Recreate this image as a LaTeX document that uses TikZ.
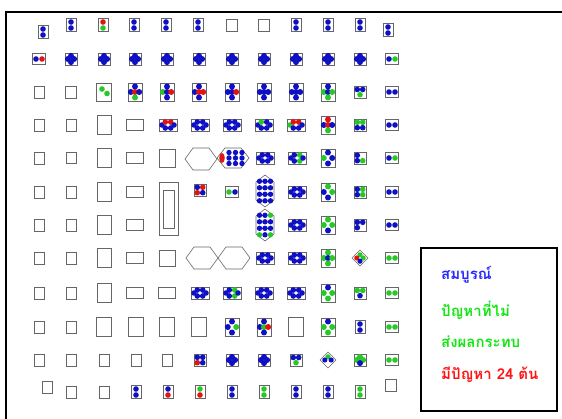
\documentclass[tikz,border=0pt]{standalone}
\usepackage{fontspec}
\newfontfamily\thaifont[Script=Thai]{Loma}
\usepackage{xcolor}
\definecolor{tblue}{RGB}{15,15,195}
\definecolor{tgreen}{RGB}{40,200,40}
\definecolor{tred}{RGB}{225,20,20}
\definecolor{keyblue}{RGB}{40,40,255}
\definecolor{keygreen}{RGB}{20,230,20}
\definecolor{keyred}{RGB}{255,20,20}
\usepackage{tikz}

\begin{document}
\begin{tikzpicture}[
  x=1pt, y=-1pt,
  cell/.style={draw=black!60, line width=0.6pt},
  keytext/.style={anchor=west, inner sep=0pt, font=\thaifont\bfseries\fontsize{15}{17}\selectfont},
  pics/box/.style 2 args={code={\draw[cell] (-#1/2,-#2/2) rectangle (#1/2,#2/2);}},
  pics/hexa/.style={code={\draw[cell] (-16,0) -- (-8,-11) -- (8,-11) -- (16,0) -- (8,11) -- (-8,11) -- cycle;}},
  pics/vtwo/.style 2 args={code={
    \draw[cell] (-5,-6.5) rectangle (5,6.5);
    \path[fill=#1] (0,-3) circle (2.8pt);
    \path[fill=#2] (0,3) circle (2.8pt);}},
  pics/htwo/.style 2 args={code={
    \draw[cell] (-6.5,-5.5) rectangle (6.5,5.5);
    \path[fill=#1] (-3,0) circle (2.8pt);
    \path[fill=#2] (3,0) circle (2.8pt);}},
  pics/flower/.style n args={4}{code={
    \draw[cell] (-6,-6) rectangle (6,6);
    \path[fill=#1] (0,-3.1) circle (3pt);
    \path[fill=#2] (-3.1,0) circle (3pt);
    \path[fill=#3] (3.1,0) circle (3pt);
    \path[fill=#4] (0,3.1) circle (3pt);}},
  pics/quad/.style n args={4}{code={
    \draw[cell] (-6,-6) rectangle (6,6);
    \path[fill=#1] (-2.7,-2.7) circle (2.8pt);
    \path[fill=#2] (2.7,-2.7) circle (2.8pt);
    \path[fill=#3] (-2.7,2.7) circle (2.8pt);
    \path[fill=#4] (2.7,2.7) circle (2.8pt);}},
  pics/tri/.style n args={3}{code={
    \draw[cell] (-6,-6) rectangle (6,6);
    \path[fill=#1] (-2.7,-2.5) circle (2.8pt);
    \path[fill=#2] (2.7,-2.5) circle (2.8pt);
    \path[fill=#3] (0,2.7) circle (2.8pt);}},
  pics/cross/.style n args={5}{code={
    \draw[cell] (-7,-9) rectangle (7,9);
    \path[fill=#1] (0,-5.5) circle (3pt);
    \path[fill=#2] (-4.2,0) circle (3pt);
    \path[fill=#3] (0,0) circle (3pt);
    \path[fill=#4] (4.2,0) circle (3pt);
    \path[fill=#5] (0,5.5) circle (3pt);}},
  pics/wide/.style n args={6}{code={
    \draw[cell] (-9,-6) rectangle (9,6);
    \path[fill=#1] (-6,0) circle (2.8pt);
    \path[fill=#2] (-2.7,-3) circle (2.8pt);
    \path[fill=#3] (-2.7,3) circle (2.8pt);
    \path[fill=#4] (2.7,-3) circle (2.8pt);
    \path[fill=#5] (2.7,3) circle (2.8pt);
    \path[fill=#6] (6,0) circle (2.8pt);}},
  pics/diam/.style n args={4}{code={
    \draw[cell] (0,-8) -- (8,0) -- (0,8) -- (-8,0) -- cycle;
    \path[fill=#1] (0,-3.2) circle (2.6pt);
    \path[fill=#2] (-3.2,0) circle (2.6pt);
    \path[fill=#3] (3.2,0) circle (2.6pt);
    \path[fill=#4] (0,3.2) circle (2.6pt);}}
]
\useasboundingbox (0,0) rectangle (562,419);

%% outer frame (runs off the right and bottom)
\draw[line width=1.6pt] (6,419) -- (6,12) -- (562,12);

%% row 1
\pic at (43,32) {vtwo={tblue}{tblue}};  \pic at (71,25) {vtwo={tblue}{tblue}};
\pic at (103,25) {vtwo={tred}{tgreen}}; \pic at (134,25) {vtwo={tblue}{tblue}};
\pic at (166,25) {vtwo={tblue}{tblue}}; \pic at (198,25) {vtwo={tblue}{tblue}};
\pic at (232,25) {box={11}{12}};        \pic at (264,25) {box={11}{12}};
\pic at (296,25) {vtwo={tblue}{tblue}}; \pic at (328,25) {vtwo={tblue}{tblue}};
\pic at (360,25) {vtwo={tblue}{tblue}}; \pic at (388,30) {vtwo={tblue}{tblue}};

%% row 2
\pic at (39,59) {htwo={tblue}{tred}};
\pic at (71,59) {flower={tblue}{tblue}{tblue}{tblue}};
\pic at (104,59) {flower={tblue}{tblue}{tblue}{tblue}};
\pic at (135,59) {flower={tblue}{tblue}{tblue}{tblue}};
\pic at (167,59) {flower={tblue}{tblue}{tblue}{tblue}};
\pic at (199,59) {flower={tblue}{tblue}{tblue}{tblue}};
\pic at (232,59) {flower={tblue}{tblue}{tblue}{tblue}};
\pic at (264,59) {flower={tblue}{tblue}{tblue}{tblue}};
\pic at (296,59) {flower={tblue}{tblue}{tblue}{tblue}};
\pic at (328,59) {flower={tblue}{tblue}{tblue}{tblue}};
\pic at (360,59) {flower={tblue}{tblue}{tblue}{tblue}};
\pic at (392,59) {htwo={tblue}{tgreen}};

%% row 3
\pic at (39,92) {box={10}{12}}; \pic at (71,92) {box={11}{12}};
\pic at (104,92) {box={15}{18}};
\fill[tgreen] (102,89) circle (2.8pt) (107,93.5) circle (2.8pt);
\pic at (135,92) {cross={tblue}{tblue}{tred}{tblue}{tgreen}};
\pic at (167,92) {cross={tblue}{tgreen}{tblue}{tred}{tblue}};
\pic at (199,92) {cross={tblue}{tblue}{tred}{tred}{tblue}};
\pic at (232,92) {cross={tblue}{tblue}{tblue}{tred}{tblue}};
\pic at (264,92) {cross={tblue}{tblue}{tblue}{tblue}{tblue}};
\pic at (296,92) {cross={tblue}{tblue}{tblue}{tblue}{tblue}};
\pic at (328,92) {cross={tblue}{tgreen}{tblue}{tgreen}{tgreen}};
\pic at (360,92) {tri={tblue}{tblue}{tgreen}};
\pic at (392,92) {htwo={tblue}{tblue}};

%% row 4
\pic at (39,125) {box={10}{12}}; \pic at (71,125) {box={10}{12}};
\pic at (104,125) {box={14}{19}}; \pic at (135,125) {box={17}{11}};
\pic at (168,125) {wide={tblue}{tred}{tblue}{tred}{tblue}{tblue}};
\pic at (200,125) {wide={tblue}{tblue}{tblue}{tblue}{tblue}{tblue}};
\pic at (232,125) {wide={tblue}{tblue}{tblue}{tblue}{tblue}{tblue}};
\pic at (264,125) {wide={tblue}{tgreen}{tblue}{tblue}{tblue}{tblue}};
\pic at (296,125) {wide={tgreen}{tred}{tblue}{tred}{tblue}{tblue}};
\pic at (328,125) {cross={tred}{tblue}{tred}{tblue}{tgreen}};
\pic at (360,125) {quad={tgreen}{tgreen}{tblue}{tblue}};
\pic at (392,125) {htwo={tblue}{tblue}};

%% row 5
\pic at (39,158) {box={10}{12}}; \pic at (71,158) {box={10}{11}};
\pic at (104,158) {box={14}{19}}; \pic at (135,158) {box={17}{11}};
\pic at (167,158) {box={16}{18}};
\pic at (201,159) {hexa};
\draw[cell] (217,158) -- (225,148) -- (241,148) -- (249,158) -- (241,168) -- (225,168) -- cycle;
\fill[tred] (222,158) ellipse (2.8pt and 5pt);
\fill[tblue] (229,152.5) circle (2.7pt) (235.5,152.5) circle (2.7pt) (242,152.5) circle (2.7pt)
  (229,158) circle (2.7pt) (235.5,158) circle (2.7pt) (242,158) circle (2.7pt)
  (229,163.5) circle (2.7pt) (235.5,163.5) circle (2.7pt) (242,163.5) circle (2.7pt);
\pic at (265,158) {wide={tblue}{tblue}{tblue}{tblue}{tblue}{tblue}};
\pic at (297,158) {wide={tblue}{tblue}{tblue}{tgreen}{tgreen}{tblue}};
\pic at (328,158) {cross={tblue}{tgreen}{none}{tblue}{tblue}};
\pic at (360,158) {quad={tblue}{none}{tblue}{tgreen}};
\pic at (392,158) {htwo={tblue}{tgreen}};

%% row 6
\pic at (39,192) {box={10}{12}}; \pic at (71,192) {box={10}{12}};
\pic at (104,192) {box={14}{19}}; \pic at (135,192) {box={17}{11}};
\draw[cell] (159,182) rectangle (178,235);
\draw[cell] (163,190) rectangle (174,228);
\pic at (200,190) {quad={tblue}{tred}{tred}{tblue}};
\pic at (232,192) {htwo={tgreen}{tblue}};
\draw[cell] (265,175) -- (274,182) -- (274,200) -- (265,207) -- (256,200) -- (256,182) -- cycle;
\fill[tblue] (259.5,181.3) circle (2.7pt) (265,181.3) circle (2.7pt) (270.5,181.3) circle (2.7pt)
  (259.5,187.8) circle (2.7pt) (265,187.8) circle (2.7pt) (270.5,187.8) circle (2.7pt)
  (259.5,194.3) circle (2.7pt) (265,194.3) circle (2.7pt) (270.5,194.3) circle (2.7pt)
  (259.5,200.8) circle (2.7pt) (265,200.8) circle (2.7pt) (270.5,200.8) circle (2.7pt);
\pic at (297,192) {wide={tblue}{tblue}{tblue}{tblue}{tblue}{tblue}};
\pic at (328,192) {cross={tgreen}{tblue}{none}{tgreen}{tblue}};
\pic at (360,192) {quad={tblue}{tgreen}{tblue}{tgreen}};
\pic at (392,192) {htwo={tblue}{tblue}};

%% row 7
\pic at (39,225) {box={10}{12}}; \pic at (71,225) {box={10}{12}};
\pic at (104,225) {box={14}{19}}; \pic at (135,225) {box={17}{11}};
\draw[cell] (265,209) -- (274,216) -- (274,234) -- (265,241) -- (256,234) -- (256,216) -- cycle;
\fill[tblue] (259.5,215.3) circle (2.7pt) (265,215.3) circle (2.7pt)
  (259.5,221.8) circle (2.7pt) (265,221.8) circle (2.7pt) (270.5,221.8) circle (2.7pt)
  (259.5,228.3) circle (2.7pt) (265,228.3) circle (2.7pt) (270.5,228.3) circle (2.7pt)
  (265,234.8) circle (2.7pt);
\fill[tgreen] (270.5,215.3) circle (2.7pt) (259.5,234.8) circle (2.7pt) (270.5,234.8) circle (2.7pt);
\pic at (297,225) {wide={tblue}{tblue}{tblue}{tblue}{tblue}{tblue}};
\pic at (328,225) {cross={tgreen}{tgreen}{none}{tgreen}{tblue}};
\pic at (360,225) {quad={tblue}{tblue}{tblue}{none}};
\pic at (392,225) {htwo={tblue}{tblue}};

%% row 8
\pic at (39,258) {box={10}{12}}; \pic at (71,258) {box={10}{12}};
\pic at (104,258) {box={14}{19}}; \pic at (135,258) {box={17}{11}};
\pic at (167,258) {box={16}{16}};
\pic at (202,258) {hexa}; \pic at (234,258) {hexa};
\pic at (265,258) {wide={tblue}{tblue}{tblue}{tblue}{tblue}{tblue}};
\pic at (297,258) {wide={tblue}{tblue}{tblue}{tblue}{tblue}{tblue}};
\pic at (328,258) {cross={tgreen}{tgreen}{tblue}{tgreen}{tgreen}};
\pic at (360,258) {diam={tgreen}{tred}{tgreen}{tblue}};
\pic at (392,258) {htwo={tgreen}{tgreen}};

%% row 9
\pic at (39,293) {box={10}{12}}; \pic at (71,293) {box={10}{12}};
\pic at (104,293) {box={14}{19}}; \pic at (135,293) {box={17}{11}};
\pic at (167,293) {box={17}{11}};
\pic at (200,293) {wide={tblue}{tblue}{tblue}{tblue}{tblue}{tblue}};
\pic at (232,293) {wide={tblue}{tblue}{tblue}{tgreen}{tgreen}{tblue}};
\pic at (264,293) {wide={tblue}{tblue}{tblue}{tblue}{tblue}{tblue}};
\pic at (296,293) {wide={tblue}{tblue}{tblue}{tblue}{tblue}{tblue}};
\pic at (328,293) {cross={tblue}{tgreen}{none}{tgreen}{tgreen}};
\pic at (360,293) {tri={tgreen}{tgreen}{tblue}};
\pic at (392,293) {htwo={tgreen}{tgreen}};

%% row 10
\pic at (39,327) {box={10}{12}}; \pic at (71,327) {box={10}{12}};
\pic at (104,327) {box={15}{19}}; \pic at (136,327) {box={15}{19}};
\pic at (167,327) {box={15}{19}}; \pic at (199,327) {box={15}{19}};
\pic at (232,327) {cross={tblue}{tblue}{none}{tgreen}{tblue}};
\pic at (264,327) {cross={tblue}{tblue}{tgreen}{tred}{tblue}};
\pic at (296,327) {box={15}{19}};
\pic at (328,327) {cross={tblue}{tgreen}{none}{tgreen}{tgreen}};
\pic at (360,327) {vtwo={tblue}{tblue}};
\pic at (392,327) {htwo={tgreen}{tgreen}};

%% row 11
\pic at (39,360) {box={10}{12}}; \pic at (71,360) {box={10}{12}};
\pic at (104,360) {box={10}{12}}; \pic at (136,360) {box={10}{12}};
\pic at (167,360) {box={10}{12}};
\pic at (200,360) {quad={tblue}{tblue}{tred}{tblue}};
\pic at (232,360) {flower={tblue}{tblue}{tblue}{tblue}};
\pic at (264,360) {flower={tblue}{tblue}{tblue}{tblue}};
\pic at (296,360) {tri={tblue}{tblue}{tgreen}};
\pic at (328,360) {diam={tgreen}{tblue}{tblue}{none}};
\pic at (360,360) {flower={tgreen}{tgreen}{tgreen}{tblue}};
\pic at (392,360) {htwo={tgreen}{tgreen}};

%% row 12
\pic at (47,387) {box={10}{12}}; \pic at (71,392) {box={10}{12}};
\pic at (104,392) {box={10}{12}};
\pic at (136,392) {vtwo={tblue}{tblue}};  \pic at (168,392) {vtwo={tblue}{tred}};
\pic at (200,392) {vtwo={tgreen}{tred}};  \pic at (232,392) {vtwo={tblue}{tblue}};
\pic at (264,392) {vtwo={tgreen}{tgreen}}; \pic at (296,392) {vtwo={tblue}{tblue}};
\pic at (328,392) {vtwo={tblue}{tblue}};  \pic at (360,392) {vtwo={tgreen}{tgreen}};
\pic at (391,385) {box={11}{12}};

%% legend
\draw[line width=1.6pt] (421,248) rectangle (557,411);
\node (k1) [keytext, text=keyblue] at (441,275) {สมบูรณ์};
\node (k2) [keytext, text=keygreen] at (441,310) {ปัญหาที่ไม่};
\node (k3) [keytext, text=keygreen] at (441,342) {ส่งผลกระทบ};
\node (k4) [keytext, text=keyred] at (441,375) {มีปัญหา 24 ต้น};

\end{tikzpicture}
\end{document}
